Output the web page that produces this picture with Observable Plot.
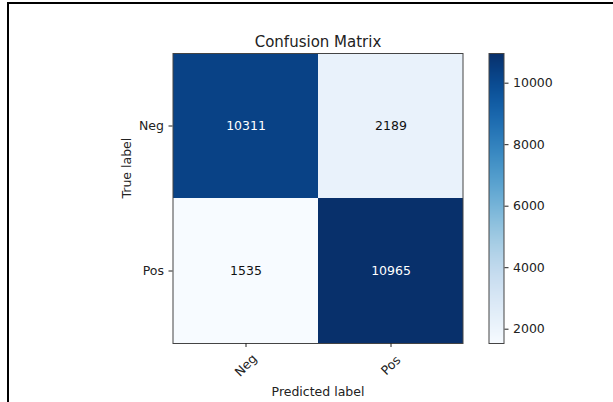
<!DOCTYPE html>
<html><head><meta charset="utf-8">
<script src="https://cdn.jsdelivr.net/npm/d3@7"></script>
<script src="https://cdn.jsdelivr.net/npm/@observablehq/plot@0.6"></script>
<style>
html,body{margin:0;padding:0;background:#fff;}
#wrap{position:relative;width:613px;height:402px;overflow:hidden;}
#wrap svg{position:absolute;left:0;top:0;}
#border{position:absolute;left:7px;top:2px;width:606px;height:400px;border-top:2px solid #000;border-left:2px solid #000;box-sizing:border-box;}
</style></head><body>
<div id="wrap"><div id="border"></div></div>
<script>
const classes = ["Neg", "Pos"];
const trueLabels = ["Neg", "Neg", "Pos", "Pos"];
const predLabels = ["Neg", "Pos", "Neg", "Pos"];
const counts = [10311, 2189, 1535, 10965];
const colorbarTicks = [2000, 4000, 6000, 8000, 10000];
const title = "Confusion Matrix";
const xLabel = "Predicted label";
const yLabel = "True label";

const cells = counts.map((v, i) => ({t: trueLabels[i], p: predLabels[i], v}));
const [vmin, vmax] = d3.extent(counts);
const thresh = vmax / 2;
const font = {fontFamily: "'DejaVu Sans', sans-serif", fontSize: "12.5px", color: "#222", background: "none", overflow: "visible"};
const colorOpts = {type: "linear", scheme: "blues", domain: [vmin, vmax]};

const main = Plot.plot({
  width: 613, height: 402,
  marginLeft: 172.5, marginRight: 150.5, marginTop: 53, marginBottom: 59,
  x: {domain: classes, padding: 0},
  y: {domain: classes, padding: 0},
  color: colorOpts,
  style: font,
  marks: [
    Plot.cell(cells, {x: "p", y: "t", fill: "v", inset: 0}),
    Plot.text(cells, {x: "p", y: "t", text: d => String(d.v), fill: d => d.v > thresh ? "#fff" : "#111", fontSize: 12.5}),
    Plot.frame({stroke: "#444", strokeWidth: 1}),
    Plot.axisY({tickSize: 4, tickPadding: 5, label: null}),
    Plot.axisX({tickSize: 4, tickFormat: () => "", label: null}),
    Plot.text(classes, {x: d => d, frameAnchor: "bottom", dy: 22, rotate: -45, textAnchor: "middle", lineAnchor: "middle", text: d => d, fill: "#222"}),
    Plot.text([title], {frameAnchor: "top", dy: -7, lineAnchor: "bottom", fontSize: 15, text: d => d, fill: "#222"}),
    Plot.text([yLabel], {frameAnchor: "left", dx: -42.5, rotate: -90, lineAnchor: "bottom", text: d => d, fill: "#222"}),
    Plot.text([xLabel], {frameAnchor: "bottom", dy: 52, lineAnchor: "bottom", text: d => d, fill: "#222"})
  ]
});

const cbar = Plot.plot({
  width: 613, height: 402,
  marginLeft: 488.5, marginRight: 109.5, marginTop: 53, marginBottom: 59,
  x: {domain: [0, 1], axis: null},
  y: {domain: [vmin, vmax]},
  color: colorOpts,
  style: font,
  marks: [
    Plot.raster({x1: 0, x2: 1, y1: vmin, y2: vmax, fill: (x, y) => y}),
    Plot.frame({stroke: "#444", strokeWidth: 1}),
    Plot.axisY({anchor: "right", ticks: colorbarTicks, tickSize: 4, tickPadding: 5, label: null, tickFormat: d => String(d)})
  ]
});

const wrap = document.getElementById("wrap");
wrap.appendChild(main);
wrap.appendChild(cbar);
</script>
</body></html>
